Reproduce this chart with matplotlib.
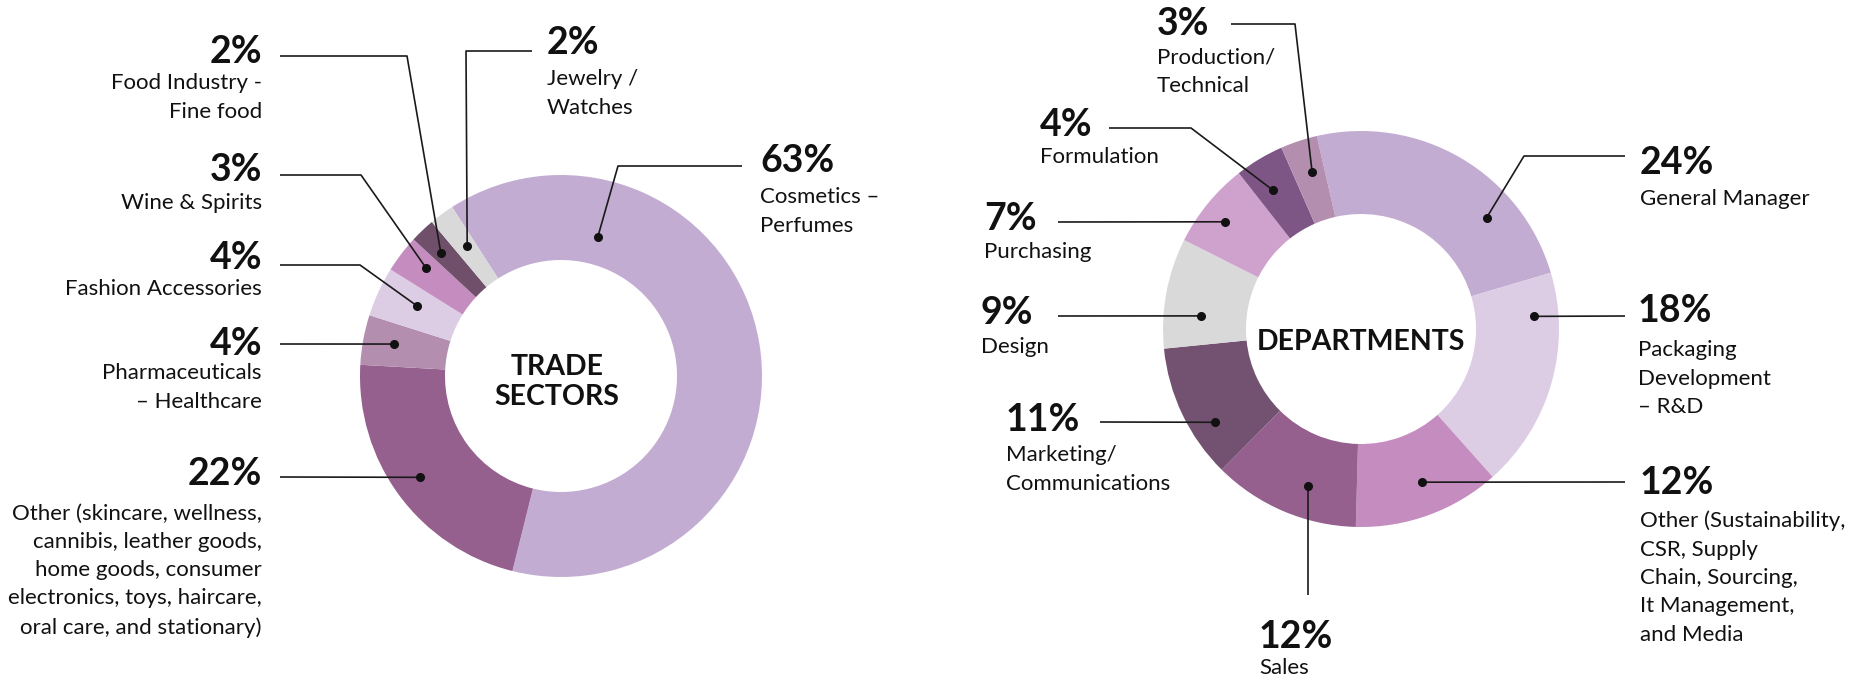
import matplotlib
matplotlib.use("Agg")
import matplotlib.pyplot as plt
import numpy as np

W, H = 1861, 679

# ---------------- data ----------------
sector_pcts = ["63%", "22%", "4%", "4%", "3%", "2%", "2%"]
sector_values = [63, 22, 4, 4, 3, 2, 2]
sector_labels = [
    "Cosmetics –\nPerfumes",
    "Other (skincare, wellness,\ncannibis, leather goods,\nhome goods, consumer\nelectronics, toys, haircare,\noral care, and stationary)",
    "Pharmaceuticals\n– Healthcare",
    "Fashion Accessories",
    "Wine & Spirits",
    "Food Industry -\nFine food",
    "Jewelry /\nWatches",
]
sector_colors = ["#C3ACD2", "#955F8E", "#B48EAF", "#DCCDE4", "#C48CBF", "#6F4F6A", "#D9D9D9"]

dept_pcts = ["24%", "18%", "12%", "12%", "11%", "9%", "7%", "4%", "3%"]
dept_values = [24, 18, 12, 12, 11, 9, 7, 4, 3]
dept_labels = [
    "General Manager",
    "Packaging\nDevelopment\n– R&D",
    "Other (Sustainability,\nCSR, Supply\nChain, Sourcing,\nIt Management,\nand Media",
    "Sales",
    "Marketing/\nCommunications",
    "Design",
    "Purchasing",
    "Formulation",
    "Production/\nTechnical",
]
dept_colors = ["#C3ACD2", "#DCCDE4", "#C48CBF", "#955F8E", "#725270", "#D9D9D9",
               "#CFA2CD", "#7E5686", "#B48EAF"]

# ---------------- layout (image pixel coords, y downward) ----------------
# each: leader kind ('H' horizontal start, 'V' vertical from anchor), text ha, text x,
# pct y, sublabel first-line y, line start x, line y, elbow x (None = straight),
# anchor fraction along wedge (clockwise), anchor radius
sector_layout = [
    ("H", "left", 760, 161, 197, 742, 166, 618, 0.21, 144),
    ("H", "right", 262, 474, 513, 280, 477, None, 0.51, 174),
    ("H", "right", 262, 344, 373, 280, 344, None, 0.53, 170),
    ("H", "right", 262, 258, 289, 280, 265, 360, 0.58, 160),
    ("H", "right", 262, 170, 203, 280, 175, 361, 0.62, 173),
    ("H", "right", 262, 52, 83, 280, 56, 407, 0.40, 172),
    ("H", "left", 547, 43, 79, 532, 51, 466, 0.57, 160),
]
dept_layout = [
    ("H", "left", 1640, 163, 199, 1625, 156, 1524, 0.71, 168),
    ("H", "left", 1638, 311, 350, 1625, 316, None, 0.19, 173),
    ("H", "left", 1640, 483, 520, 1625, 482, None, 0.46, 165),
    ("V", "left", 1259, 637, 668, None, 595, None, 0.40, 166),
    ("H", "left", 1006, 420, 455, 1100, 422, None, 0.32, 173),
    ("H", "left", 981, 313, 347, 1058, 316, None, 0.32, 161),
    ("H", "left", 984, 219, 252, 1058, 222, None, 0.46, 173),
    ("H", "left", 1040, 125, 157, 1109, 128, 1191, 0.40, 164),
    ("H", "left", 1157, 24, 57, 1231, 24, 1295, 0.59, 164),
]

FONT = "Lato"
plt.rcParams["font.family"] = [FONT, "DejaVu Sans"]

fig = plt.figure(figsize=(W / 100, H / 100), dpi=100)
ax = fig.add_axes([0, 0, 1, 1])
Y = lambda y: H - y


def donut(values, colors, cx, cy, R, r, start_cw):
    wedges, _ = ax.pie(values, colors=colors, radius=R, center=(cx, Y(cy)),
                       startangle=90 - start_cw, counterclock=False,
                       wedgeprops=dict(width=R - r, linewidth=0, antialiased=True))
    return wedges


def annotate(wedges, pcts, labels, layout, cx, cy):
    for w, pct, lab, (kind, ha, tx, py, ly, lx, lyy, ex, frac, ar) in zip(wedges, pcts, labels, layout):
        ang = np.deg2rad(w.theta2 - frac * (w.theta2 - w.theta1))
        axx = cx + ar * np.cos(ang)
        ayy = Y(cy) + ar * np.sin(ang)
        if kind == "V":
            xs = [axx, axx]
            ys = [ayy, Y(lyy)]
        elif ex is None:
            xs = [lx, axx]
            ys = [Y(lyy), ayy]
        else:
            xs = [lx, ex, axx]
            ys = [Y(lyy), Y(lyy), ayy]
        ax.plot(xs, ys, color="#1a1a1a", lw=1.2, solid_capstyle="butt")
        ax.plot([axx], [ayy], "o", color="#111111", ms=5.5)
        ax.text(tx, Y(py), pct, ha=ha, va="center", fontsize=27, fontweight="bold",
                color="#111111")
        n = lab.count("\n") + 1
        step = 28.8
        cyb = ly + (n - 1) * step / 2
        ax.text(tx, Y(cyb), lab, ha=ha, va="center", multialignment=ha,
                fontsize=16, color="#111111", linespacing=1.52)


LCX, LCY, LR, Lr = 561, 376, 201, 116
RCX, RCY, RR, Rr = 1361, 329, 198, 115

w1 = donut(sector_values, sector_colors, LCX, LCY, LR, Lr, -32.8)
w2 = donut(dept_values, dept_colors, RCX, RCY, RR, Rr, -12.9)
annotate(w1, sector_pcts, sector_labels, sector_layout, LCX, LCY)
annotate(w2, dept_pcts, dept_labels, dept_layout, RCX, RCY)

ax.text(LCX - 4, Y(382), "TRADE\nSECTORS", ha="center", va="center", fontsize=20.5,
        fontweight="bold", color="#111111", linespacing=1.2)
ax.text(RCX, Y(342), "DEPARTMENTS", ha="center", va="center", fontsize=20.5,
        fontweight="bold", color="#111111")

ax.set_xlim(0, W)
ax.set_ylim(0, H)
ax.set_aspect("equal")
ax.axis("off")
fig.savefig("out.png", dpi=100, facecolor="white")
